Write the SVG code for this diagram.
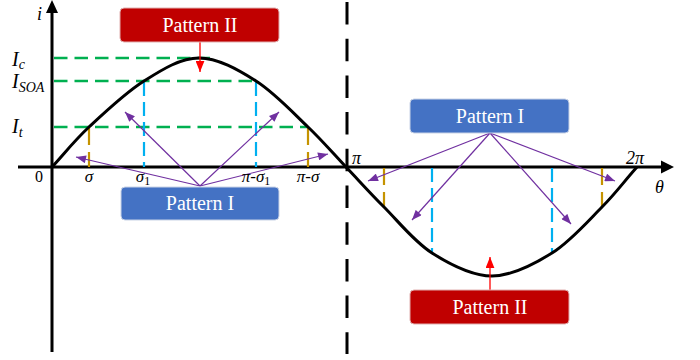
<svg xmlns="http://www.w3.org/2000/svg" width="700" height="360" viewBox="0 0 700 360">
<defs>
<style>
.axis{stroke:#000;stroke-width:3;fill:none}
.curve{stroke:#000;stroke-width:3;fill:none;stroke-linejoin:round}
.green{stroke:#00b050;stroke-width:2.5;stroke-dasharray:13.5 7;fill:none}
.cyan{stroke:#00b0f0;stroke-width:2.2;stroke-dasharray:14 6;fill:none}
.orange{stroke:#c59300;stroke-width:2.2;stroke-dasharray:17 7;fill:none}
.pi{stroke:#000;stroke-width:3;stroke-dasharray:22.5 14.2;fill:none}
.purple{stroke:#7030a0;stroke-width:1.2;fill:none;marker-end:url(#ap)}
.red{stroke:#ff0000;stroke-width:1.3;fill:none;marker-end:url(#ar)}
.boxI{fill:#4472c4;stroke:#c9d3e6;stroke-width:1}
.boxII{fill:#c00000;stroke:#e0b0b0;stroke-width:1}
.bt{font-family:"Liberation Serif","Times New Roman",serif;font-size:20px;fill:#fff;text-anchor:middle}
.lab{font-family:"Liberation Serif","Times New Roman",serif;font-style:italic;fill:#000}
.num{font-family:"Liberation Serif","Times New Roman",serif;fill:#000}
</style>
<marker id="ap" viewBox="0 0 10 8" refX="10" refY="4" markerWidth="11" markerHeight="8" markerUnits="userSpaceOnUse" orient="auto">
<path d="M0,0 L10,4 L0,8 Z" fill="#7030a0"/>
</marker>
<marker id="ar" viewBox="0 0 10 8" refX="10" refY="4" markerWidth="11" markerHeight="9" markerUnits="userSpaceOnUse" orient="auto">
<path d="M0,0 L10,4 L0,8 Z" fill="#ff0000"/>
</marker>
</defs>
<rect width="700" height="360" fill="#fff"/>

<g id="axes">
<line class="axis" x1="52" y1="10" x2="52" y2="352"/>
<path d="M52,0 L46,13 L58,13 Z" fill="#000"/>
<line class="axis" x1="18" y1="167" x2="664" y2="167"/>
<path d="M674,167 L661,160.5 L661,173.5 Z" fill="#000"/>
<line class="pi" x1="347" y1="2" x2="347" y2="354"/>
</g>

<g id="guides">
<line class="green" x1="54" y1="58" x2="210" y2="58"/>
<line class="green" x1="54" y1="81" x2="256" y2="81"/>
<line class="green" x1="54" y1="127" x2="308" y2="127"/>
<line class="orange" x1="89" y1="128" x2="89" y2="167"/>
<line class="orange" x1="308" y1="128" x2="308" y2="167"/>
<line class="cyan" x1="144" y1="82" x2="144" y2="167"/>
<line class="cyan" x1="256" y1="82" x2="256" y2="167"/>
<line class="orange" x1="384" y1="168" x2="384" y2="207"/>
<line class="orange" x1="602" y1="168" x2="602" y2="207"/>
<line class="cyan" x1="432" y1="168" x2="432" y2="252"/>
<line class="cyan" x1="552" y1="168" x2="552" y2="252"/>
</g>

<g id="curve">
<path class="curve" d="M52,167 C64.3,153.7 73.7,141.3 89,127 C104.3,112.7 125.7,92.5 144,81 C162.3,69.5 180.3,58 199,58 C217.7,58 237.8,69.5 256,81 C274.2,92.5 293,112.7 308,127 C323,141.3 333.3,153.7 346,167 C358.7,180.3 369.7,192.7 384,207 C398.3,221.3 414,241.5 432,253 C450,264.5 472,276 492,276 C512,276 533.7,264.5 552,253 C570.3,241.5 587.8,221.3 602,207 C616.2,192.7 625,180.3 637,167"/>
</g>

<g id="connectors">
<line class="purple" x1="200" y1="186" x2="76" y2="157"/>
<line class="purple" x1="200" y1="186" x2="125" y2="112"/>
<line class="purple" x1="200" y1="186" x2="279" y2="112"/>
<line class="purple" x1="200" y1="186" x2="328" y2="154"/>
<line class="purple" x1="490" y1="133" x2="368" y2="181"/>
<line class="purple" x1="490" y1="133" x2="412" y2="220"/>
<line class="purple" x1="490" y1="133" x2="571" y2="224"/>
<line class="purple" x1="490" y1="133" x2="615" y2="181"/>
<line class="red" x1="200" y1="42" x2="200" y2="72"/>
<line class="red" x1="490" y1="290" x2="490" y2="257"/>
</g>

<g id="node-pattern2-top">
<rect class="boxII" x="120" y="8" width="159" height="34" rx="4"/>
<text class="bt" x="200" y="31.5">Pattern II</text>
</g>
<g id="node-pattern1-left">
<rect class="boxI" x="121" y="187" width="158" height="33" rx="4"/>
<text class="bt" x="200" y="210">Pattern I</text>
</g>
<g id="node-pattern1-right">
<rect class="boxI" x="410" y="99" width="159" height="34" rx="4"/>
<text class="bt" x="490" y="122.5">Pattern I</text>
</g>
<g id="node-pattern2-bottom">
<rect class="boxII" x="410" y="290" width="159" height="34" rx="4"/>
<text class="bt" x="490" y="314">Pattern II</text>
</g>

<g id="labels">
<text class="lab" x="37" y="20" font-size="18">i</text>
<text class="lab" x="12" y="66" font-size="20">I<tspan font-size="14" dy="3">c</tspan></text>
<text class="lab" x="12" y="88" font-size="20">I<tspan font-size="14" dy="4">SOA</tspan></text>
<text class="lab" x="12" y="133" font-size="20">I<tspan font-size="14" dy="4">t</tspan></text>
<text class="num" x="35" y="182" font-size="16">0</text>
<text class="lab" x="89" y="182" font-size="17" text-anchor="middle">σ</text>
<text class="lab" x="143" y="182" font-size="17" text-anchor="middle">σ<tspan font-size="12" dy="3" font-style="normal">1</tspan></text>
<text class="lab" x="256" y="182" font-size="17" text-anchor="middle">π-σ<tspan font-size="12" dy="3" font-style="normal">1</tspan></text>
<text class="lab" x="308" y="182" font-size="17" text-anchor="middle">π-σ</text>
<text class="lab" x="352" y="164" font-size="18">π</text>
<text class="lab" x="626" y="164" font-size="18">2π</text>
<text class="lab" x="655" y="193" font-size="18">θ</text>
</g>
</svg>
